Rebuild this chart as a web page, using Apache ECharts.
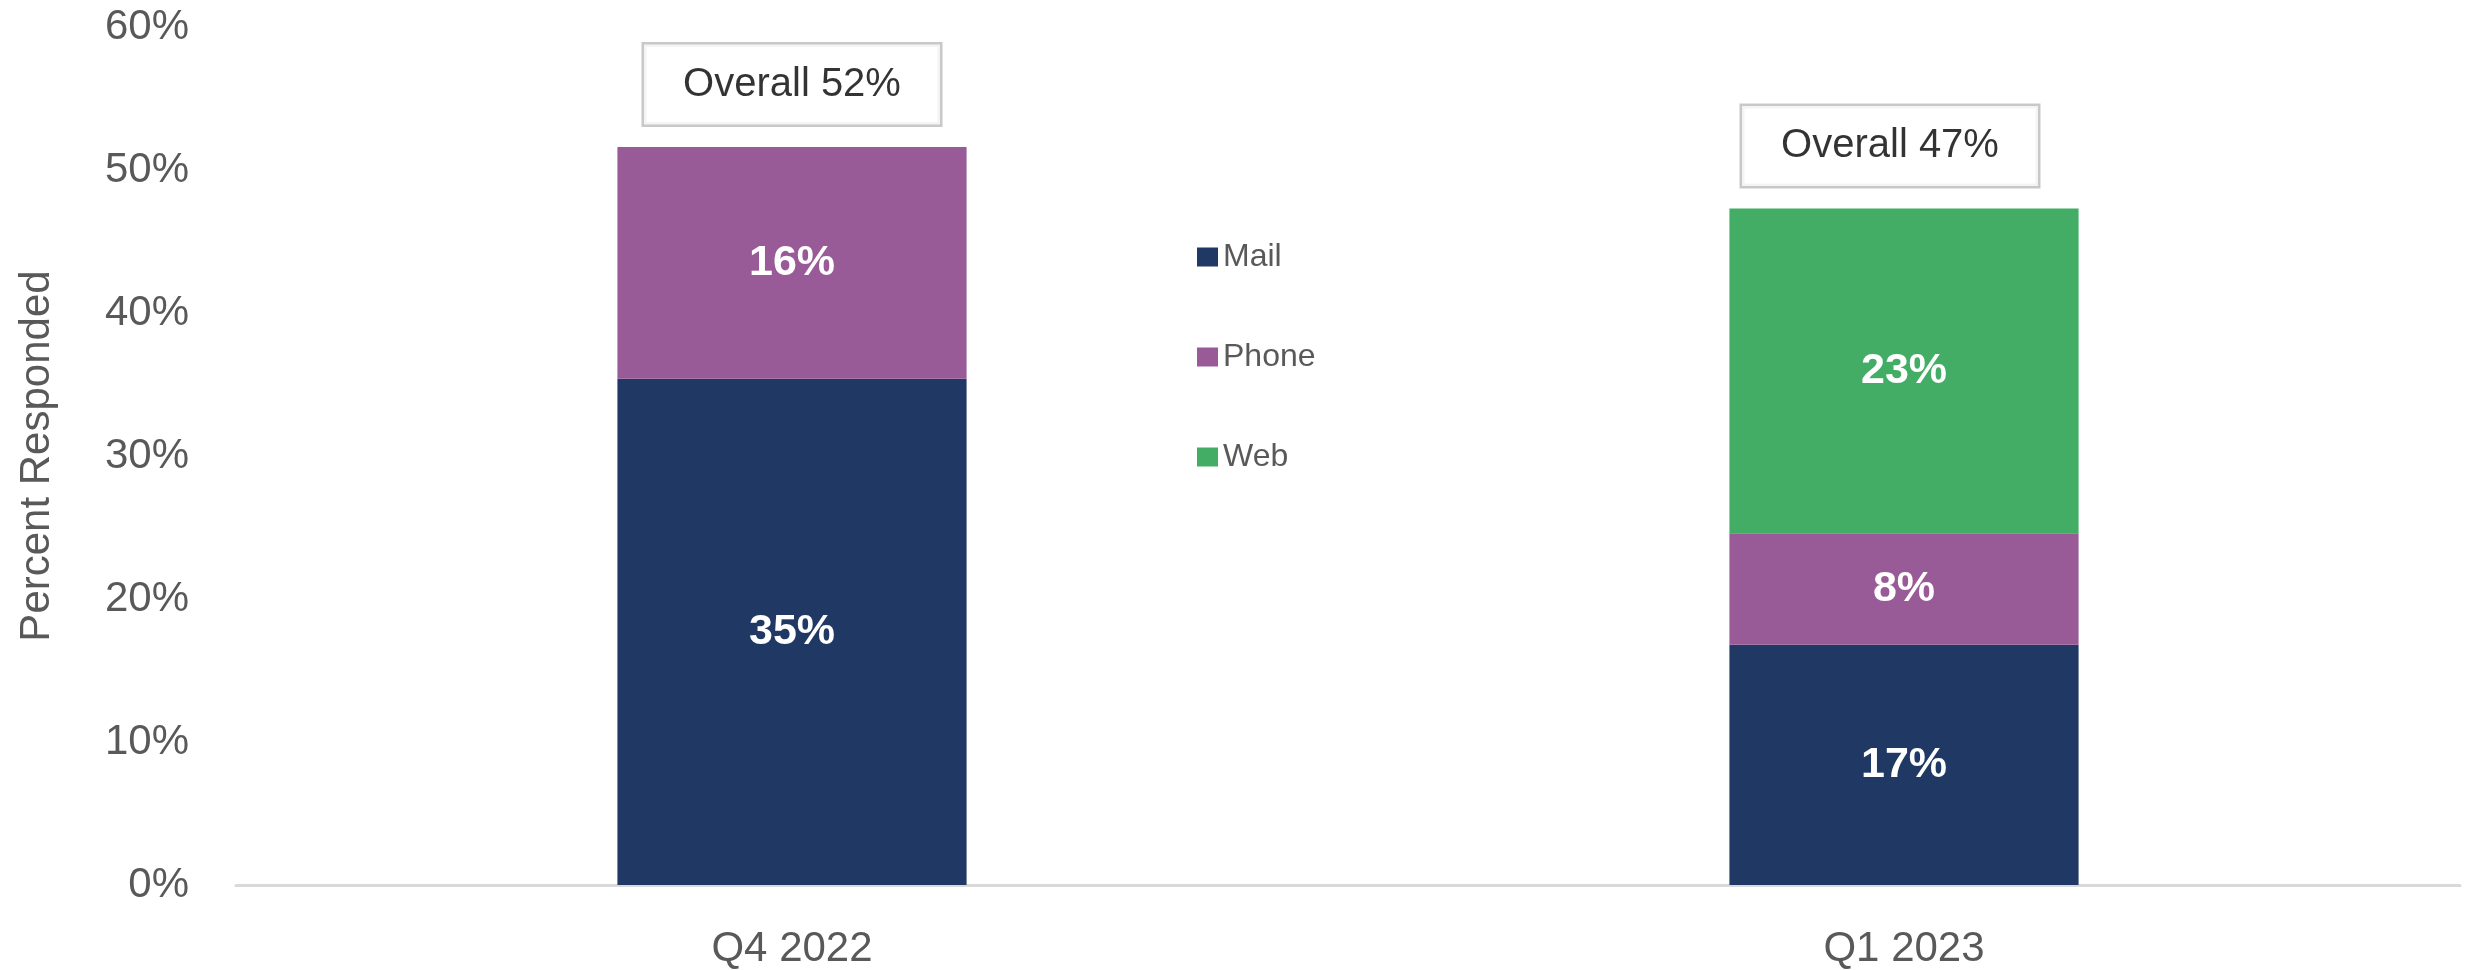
<!DOCTYPE html>
<html>
<head>
<meta charset="utf-8">
<script src="https://cdn.jsdelivr.net/npm/echarts@6/dist/echarts.min.js"></script>
<style>
  html, body { margin: 0; padding: 0; background: #ffffff; }
  #chart { width: 2465px; height: 970px; }
</style>
</head>
<body>
<div id="chart"></div>
<script>
// Response rate by mode, per quarter
const categories = ['Q4 2022', 'Q1 2023'];
const mailValues = [35.4, 16.8];
const phoneValues = [16.2, 7.8];
const webValues = [null, 22.7];
const yTicks = [0, 10, 20, 30, 40, 50, 60];

const FONT = "'Liberation Sans', Arial, sans-serif";
const GREY = '#595959';

// overall response = sum of the stacked modes
const totals = categories.map((c, i) =>
  (mailValues[i] || 0) + (phoneValues[i] || 0) + (webValues[i] || 0));

const segLabel = {
  show: true,
  position: 'inside',
  color: '#ffffff',
  fontFamily: FONT,
  fontWeight: 'bold',
  fontSize: 43,
  formatter: p => (p.value == null ? '' : Math.round(p.value) + '%')
};

function barSeries(name, data, color) {
  return {
    name: name,
    type: 'bar',
    stack: 'modes',
    barWidth: '31.4%',
    data: data,
    itemStyle: { color: color },
    label: segLabel,
    emphasis: { disabled: true }
  };
}

const chart = echarts.init(document.getElementById('chart'));
chart.setOption({
  animation: false,
  backgroundColor: '#ffffff',
  grid: { left: 236, right: 5, top: 27, bottom: 85, containLabel: false },
  legend: {
    data: ['Mail', 'Phone', 'Web'],
    orient: 'vertical',
    left: 1197,
    top: 237,
    padding: 0,
    itemWidth: 21,
    itemHeight: 19,
    itemGap: 60,
    icon: 'rect',
    textStyle: { fontFamily: FONT, fontSize: 32, color: GREY, lineHeight: 40 }
  },
  xAxis: {
    type: 'category',
    data: categories,
    axisLine: { show: true, lineStyle: { color: '#d9d9d9', width: 3 } },
    axisTick: { show: false },
    axisLabel: { fontFamily: FONT, fontSize: 42, color: GREY, margin: 43 }
  },
  yAxis: {
    type: 'value',
    min: yTicks[0],
    max: yTicks[yTicks.length - 1],
    interval: yTicks[1] - yTicks[0],
    name: 'Percent Responded',
    nameLocation: 'middle',
    nameRotate: 90,
    nameGap: 178,
    nameTextStyle: { fontFamily: FONT, fontSize: 42, color: GREY },
    axisLine: { show: false },
    axisTick: { show: false },
    splitLine: { show: false },
    axisLabel: {
      fontFamily: FONT, fontSize: 42, color: GREY, margin: 47,
      formatter: '{value}%'
    }
  },
  series: [
    barSeries('Mail', mailValues, '#203864'),
    barSeries('Phone', phoneValues, '#985b97'),
    barSeries('Web', webValues, '#43ad66'),
    {
      name: 'Overall',
      type: 'scatter',
      symbolSize: 1,
      itemStyle: { color: 'rgba(0,0,0,0)' },
      z: 10,
      silent: true,
      data: totals.map((t, i) => ({
        value: [categories[i], t],
        label: i === 1 ? { offset: [-14, 0] } : {}
      })),
      label: {
        show: true,
        position: 'top',
        distance: 22,
        fontFamily: FONT,
        fontSize: 40,
        lineHeight: 40,
        color: '#000000',
        backgroundColor: '#ffffff',
        borderColor: '#bababa',
        borderWidth: 2.5,
        padding: [20, 38],
        width: 220,
        align: 'center',
        formatter: p => 'Overall ' + Math.round(p.value[1]) + '%'
      }
    }
  ]
});
</script>
</body>
</html>
